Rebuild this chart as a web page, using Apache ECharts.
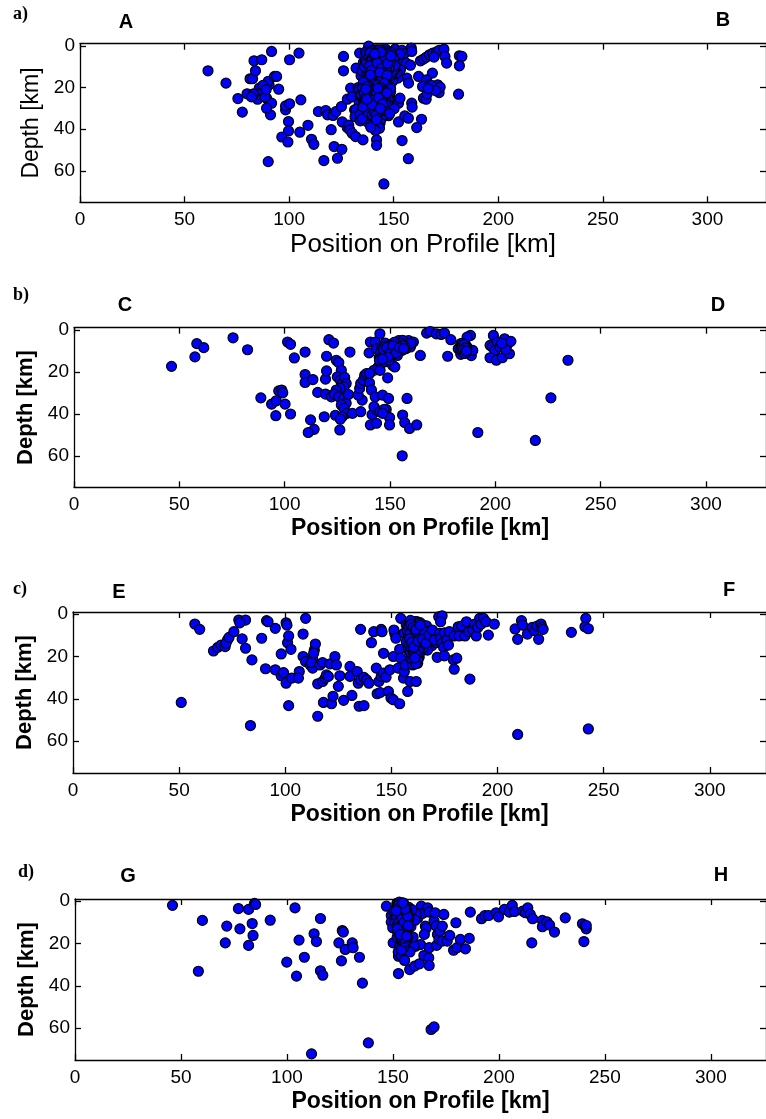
<!DOCTYPE html>
<html>
<head>
<meta charset="utf-8">
<script src="https://cdn.jsdelivr.net/npm/echarts@6/dist/echarts.min.js"></script>
<style>
html,body{margin:0;padding:0;background:#fff;}
#chart{width:766px;height:1119px;}
</style>
</head>
<body>
<div id="chart"></div>
<script>
// ---- data: [position on profile (km), depth (km)] ----
const panelA = [
[61.2,12],[69.8,17.9],[75.5,25.3],[77.6,31.8],[79.9,23],[81.3,15.8],[82.5,15.8],[83.2,7.2],[83.9,12],[86.9,6.7],[91.6,2.7],
[85.7,20.3],[88.1,22.7],[89.2,25.1],[84.9,25.6],[90.4,18.7],[90,17],[93,14.7],[94,14.7],[95,20.8],[91.6,27.5],[91.1,33.1],[89.2,29.9],[90,55.5],
[86,23.5],[87,21.5],[88.5,24.5],[83,23],[82,24.5],[87.5,19],[89,21],
[98.3,30.7],[98.3,28.8],[100.2,27.8],[99.7,36.3],[99.7,40.8],[96.5,43.7],[99.4,46.1],[100.2,6.7],[104.7,3.5],[105.6,25.9],[105.1,41.4],[109,38.1],
[110.7,44.8],[111.8,47.2],[114,31.5],[117.5,31],[118.4,33.1],[120.1,40.2],[121.5,48.3],[116.6,55],[123.1,53.9],[125.2,49.6],[121,33.4],[122.4,31.5],
[125,29.1],[125.4,36.5],[127.8,39.2],[128.5,38],[129,40.3],[130.1,41.9],[131.8,43.5],[127.8,25.6],[129.4,20.3],[130.1,24.5],[131.3,30.7],
[126,5.1],[126,12],[132,10.7],[133.7,3.5],[134.4,14.4],[135.5,8],[135,12],
[138,0.2],[141.8,1.9],[146.5,2.7],[150.7,1.6],[154,2.2],[155,3.8],[158.4,1.1],[158.6,2.7],[152,7.5],[156,8.3],[158,9.3],[153.2,11.5],[156.3,15.5],
[157.1,17.9],[152,15.5],[151,5],[153,4],[151.5,13],[149.5,17],[148,19.5],[146.5,18.5],
[136.5,3],[137.5,5],[138,7],[139,9],[138.5,11],[137,13],[139.5,4],[140,6],[141,8],[140.5,10],[141.5,12],[140,14],[142,3],[142.5,5],[143,7],
[143.5,9],[142.5,11],[143,13],[142,15],[144,2],[144.5,4],[145,6],[145.5,8],[144.5,10],[145,12],[144,14],[146,3],[146.5,5],[147,7],[146.5,9],
[147,11],[146,13],[147.5,15],[148,4],[148.5,6],[148,8],[149,10],[148.5,12],[149.5,5],[150,8],[137.5,9.5],[139,12.5],[141,16],[145.5,16],
[143,17.5],[140.5,2],[138,4.5],[146,1.5],[149,14],[150.5,11],
[139,3.5],[140,5],[141,7],[142,9],[143,11],[144,13],[145,15],[139.5,8],[140.5,12],[141.5,14],[142.5,6.5],[143.5,4.5],[144.5,8.5],[145.5,10.5],
[146.5,12],[147.5,9.5],[148.5,10],[147,5.5],[145,3.5],[141,3],[138.5,6],[138,9],[139.5,13.5],[143,15.5],[146,14.5],[148,13.5],[144,6],
[142,12.5],[140,10.5],[146,7],[147,2.5],[143,2],[149,7],[150,12],[147.5,13],[138.5,14],
[137,4],[137.5,6.5],[138,8.5],[138.5,10.5],[139,12],[139.5,14.5],[140,3],[140.5,4.5],[141,6],[141.5,9],[142,10.5],[142.5,13.5],[143,3.5],
[143.5,6],[144,7.5],[144.5,11.5],[145,13.5],[145.5,4.5],[146,6],[146.5,8],[147,10],[147.5,12],[148,14.5],[148.5,3],[149,5.5],[149.5,8.5],
[137.5,11.5],[138.5,13],[139.5,6.5],[140.5,7.5],[141.5,4],[142.5,8],[143.5,10],[144.5,12.5],[145.5,14],[146.5,10.5],[147.5,7],[148.5,9],
[139,2.5],[141,11],[143,8.5],[145,9.5],[147,4],[149,12.5],[138,15],[140,16],[142,14],[144,15.5],[146,15.5],[148,11],[136.5,7],[136,10],
[137,8],[150,6],[150.5,9.5],
[138.2,5.2],[138.9,7.3],[139.6,9.8],[140.3,11.6],[141.1,13.2],[141.8,5.1],[142.4,7.2],[143.1,9.4],[143.8,11.8],[144.6,13.8],[145.2,5.2],
[145.9,7.4],[146.7,9.7],[147.3,11.1],[147.9,6.2],[138.7,3.4],[139.9,5.6],[140.8,8.8],[141.6,10.4],[142.9,12.1],[143.6,14.3],[144.9,3.1],
[145.7,11.3],[146.3,13.6],[147.6,3.8],[139.2,10.9],[140.6,13.4],[142.2,4.2],[143.3,5.7],[144.2,9.2],[145.1,7.9],[146.1,4.3],[146.8,6.6],
[147.8,10.6],[148.4,7.7],[139.7,7.1],[141.3,5.4],[142.7,10.2],[144.7,6.8],[145.6,12.4],[140.1,9.1],[141.9,12.3],[143.9,3.2],[146.4,11.9],
[138.4,9.7],[139.4,11.8],[142.1,8.3],[144.1,10.9],[145.3,13.1],[147.1,8.4],[148.7,4.9],[140.9,3.9],[143.4,12.8],[146.9,14.2],[138.9,14.1],
[133,20],[134,22.5],[135,25],[133.5,27],[134.5,29.5],[133,31.5],[135,33.5],[136,21],[137,23.5],[137.5,26],[136.5,28.5],[137,31],[136,34],
[138.5,19.5],[139,22],[139.5,24.5],[138.5,27],[139.5,29.5],[138.5,32],[139,35],[140.5,20.5],[141,23],[141.5,25.5],[140.5,28],[141,30.5],
[140.5,33],[142,19],[142.5,21.5],[143,24],[142.5,26.5],[143,29],[142.5,31.5],[143.5,34],[144,20],[144.5,22.5],[145,25],[144.5,27.5],[145,30],
[144.5,32.5],[146,21],[146.5,23.5],[146,26],[147,28.5],[146.5,31],[147.5,33.5],[148,24],[148.5,27],[149,30],[147.5,19.5],[145.5,18],
[132,30.5],[131.5,34],[134,36],[137.5,36.5],[141,36],[143.5,37],[135.5,17.5],
[134,24],[135.5,26.5],[136.5,30],[138,33],[139.5,31],[141.5,27],[143.5,23],[145.5,28],[147,26],[139,26],[142,33.5],[144,35],[136,23],
[140,22],[137.5,21],[144,29],[146,33],[148.5,22],[135,31],[140,35.5],
[133.5,21],[134.5,23.5],[135.5,28],[136.5,32],[137.5,34.5],[138.5,30.5],[139.5,27.5],[140.5,25],[141.5,21.5],[142.5,23],[143.5,27.5],
[144.5,30.5],[145.5,33],[146.5,29],[147.5,25.5],[148.5,20.5],[134,33],[135,20.5],[136,25.5],[137,28],[138,23],[139,20.5],[140,30],
[141,32.5],[142,28.5],[143,32],[144,24.5],[145,21],[146,24.5],[147,31.5],[148,29],[139,33.5],[137,19.5],[143.5,20],[141,34.5],[135,35],
[135.8,22.4],[136.7,24.6],[137.6,27.3],[138.4,29.1],[139.3,31.7],[140.2,21.6],[141.2,24.1],[142.1,26.2],[143.1,28.4],[144.1,30.9],
[145.1,22.8],[146.1,25.3],[136.2,27.1],[137.2,29.6],[138.2,22.2],[139.2,24.8],[140.2,26.9],[141.2,29.3],[142.2,31.2],[143.2,21.1],
[144.2,23.6],[145.2,26.4],[146.2,28.1],[137.8,31.9],[139.8,33.1],[141.8,22.3],[143.8,25.8],[145.8,30.6],[136.6,20.8],[138.8,25.9],
[140.8,31.9],[142.8,24.9],[144.8,27.9],[146.8,22.6],[135.4,29.3],[139.6,28.3],[141.6,33.2],[143.6,30.1],[137.1,25.7],[142.4,20.4],
[161.9,14.7],[162.8,7.2],[164.2,6.4],[165.7,5.4],[167.1,4.3],[168.7,3.5],[170.5,2.9],[171.7,2.2],[174,1.6],[169.3,5.4],[174.5,5.1],[175.3,8.3],
[181.4,4.8],[182.6,5.1],[181.4,9.6],[181,23.2],[168.5,13.1],[165.7,16.3],[166.8,18.7],[167.5,21.1],[163.8,19.5],[164.2,25.1],[165.5,25.6],
[169.4,20.3],[171,18.7],[171.7,22.4],[172.2,19.8],[163.3,35.2],[161,39.2],[154,45.4],[157,54.1],[158.6,27.5],[158.8,29.4],[152.3,27.5],
[153,25.1],[152.3,36.5],[155.3,33.6],[157,34.7],[150.2,30.1],[148.1,32.5],[141.8,45.1],[141.8,47.7],[143.2,39.5],[141.3,40.6],[139,39],
[135.3,45.1],[145.3,66.2],[141.8,35.5],[166,23],[168,19],[170,21.5],[166.5,20.5]
];
const panelB = [
[46.3,17.4],[57.4,12.9],[58.3,6.6],[61.6,8.5],[75.5,3.8],[82.4,9.5],[88.7,32.4],[93.8,35.4],[96,33.8],[97.2,29.1],[98.6,28.7],[99.1,30],
[95.8,40.9],[100.2,35.4],[102.8,40.1],[101.4,5.8],[102.8,6.9],[104.6,13.4],[109.7,10.6],[109.7,21.3],[109.7,25.1],[113.4,23.7],[115.7,29.8],
[112.3,42.9],[114,47.4],[111.2,48.9],[118.8,41.4],[119.9,12.6],[119.4,23.5],[119.9,19.6],[121,4.7],[123.2,6.3],[119.4,30.6],[122.2,31.9],
[124.1,40.7],[126.2,47.7],[124.5,14.5],[125.7,15.6],[126.9,19.3],[125,22.4],[126.4,24],[127.3,25.6],[128.5,22.7],[129.2,25.6],[128.2,27.2],
[126.4,27.9],[124.5,28.7],[123.6,30.6],[125.7,31.9],[128,32.7],[129.2,35],[126.9,35.8],[128.2,37.4],[129.6,39.8],[127.3,41.4],[126.4,42.6],
[130.3,30.8],[131,10.6],[132.2,39.8],[136.1,39],[136.8,33.5],[134.9,31.1],[135.6,27.9],[136.1,25.6],[137.3,24],[138,21.6],[138.9,20.8],
[140.3,25.3],[141.2,28.7],[143,31.9],[146.5,31.1],[149.3,32.7],[140.7,45.3],[143.6,44.5],[141.5,40.4],[143.6,38.2],[142.4,36.6],[145.2,39],
[148.2,37.9],[149.8,41.8],[149.8,45.3],[147.2,37.9],[146.5,39.8],[156,40.6],[157,44.2],[159.3,47],[162.7,45.3],[158.1,32.7],[155.8,60],
[140.1,11],[140.7,5.8],[143,5.8],[145.2,1.9],[147.7,6.3],[143.6,9],[144.9,13.3],[144.4,17.7],[142.4,19.3],[140.3,20.8],[145.3,19.3],
[147.3,15.3],[148.9,22.9],[151.2,16.9],[152.3,17.7],[148.9,10.6],[150,9.8],[151.2,8.2],[152.8,7.9],[154.6,6.9],[156.5,5.4],[158.8,5.1],
[161.1,5.8],[158,7.4],[159.7,8.2],[155.8,9.8],[153.5,12.2],[152.3,11],[150,13],[147.7,11.4],[146.5,12.6],[150.8,6.9],[154.2,5.1],
[146,9],[147,10.5],[148,12],[149,9],[151,11.5],[153,9.5],[155,8],[157,6.5],[156,5],[157.5,9],[145.5,11],[149.5,14.5],[160,6.5],
[146,13],[147.5,12],[148.5,10],[150.5,10.5],[151.5,9.5],[153,8],[154,10],[155.5,6.5],[157,8],[149,11.5],[145,14.5],[147.5,8],[152,6],[156,7.5],
[147,9.5],[148.5,8.5],[150,11],[151.5,7.5],[153,11],[154.5,8.5],[156.5,9],[149,13],[146.5,14],
[164.4,12.2],[167.4,1.6],[169.1,0.8],[172,1.9],[174.3,2.2],[175.9,1.6],[178.9,4.7],[177.4,12.6],[182.4,9],[183.6,6.6],[184.3,7.9],[185.2,9.5],
[185.9,7.4],[184.9,10.6],[183.6,11.7],[188.2,2.7],[186.6,3.5],[188.6,12.3],[189.3,9.8],[184.5,8.5],[185.5,9],[186,10],[185,11],[184,7.5],[186.5,8],
[185,9.5],[184.5,10.5],[185.5,7.5],[186,9],[183.5,9.5],[184,9],[185,8],[186,11],[185.5,10.5],[184.5,6.5],[186.5,9.5],
[184.3,8.2],[185.2,7.1],[185.8,8.6],[184.8,9.8],[185.6,11.2],[186.3,10.1],
[199.1,2.7],[197.5,7.4],[198.6,8.2],[199.8,9.8],[197.5,13.3],[200.5,14.5],[203.3,13.3],[204.4,4.3],[205.6,7.4],[207.4,5.5],[206.7,11.4],
[201,5.8],[202.1,8.2],[205,9.5],[203,6.5],
[226.4,32.4],[219,52.7],[191.7,48.9],[234.5,14.5]
];
const panelC = [
[51,41.7],[57.4,4.7],[59.7,7.2],[66.2,17.4],[68.2,15.7],[69.8,14.6],[71.7,15.3],[72.8,12.2],[72.1,13.8],[73.5,11],[75.8,8.3],[78.1,2.8],
[81.3,2.8],[78.6,4.1],[79.7,11.7],[81.3,16.1],[84.3,21.6],[83.6,52.6],[88.9,11.4],[91.2,3.1],[91.9,3.6],[95.3,6.7],[90.7,25.8],[95.3,26.3],
[98.1,18.8],[98.1,29.1],[99.2,27.6],[100.4,32.6],[100.4,4.1],[100.8,5.2],[101.1,13.5],[101.6,10.3],[102.7,16.6],[101.6,43.2],[103.1,30.2],
[106.6,27.1],[106.2,30.2],[108.4,9.4],[109.6,2],[108.4,20],[109.6,22.4],[111.8,24],[112.9,20.8],[113.7,16.9],[114.2,14.1],[112.9,25.5],
[113.4,18.5],[112.3,22.9],[115.3,32.9],[115.3,48.2],[117.6,31.8],[118.8,30.2],[119.4,28.7],[120.3,29.4],[116.4,24],[117.6,22.9],[118,41.7],
[121.8,42.3],[122.5,38.8],[121.1,23.5],[123.4,20],[124.1,24],[125,34.1],[125.7,29.1],[127.5,40.7],[130.5,24.7],[131.4,38.4],[130.5,29.4],
[133.9,27.1],[134.4,32.6],[135.5,31],[137.1,29.9],[134.8,43.5],[137.1,43.2],[135.5,7.2],[138.3,31],[139.4,32.6],[140.6,13.5],[141.7,8.3],
[143.3,37.6],[144.7,37],[142.9,25.5],[144.1,31.8],[145.2,29.4],[146.3,27.9],[147.5,29.8],[146.3,18.5],[145.2,7.2],[145.6,8.3],[148.6,36.5],
[149.8,39.6],[150.9,40.4],[149.3,26.3],[150.9,20],[151.6,9.1],[151.2,7.5],[152.1,11.4],[153.2,25.5],[153.9,16.6],[154.4,2],[153.9,42.3],
[154.4,20.8],[155.7,30.2],[156.1,27.1],[156.6,24],[157.7,36.5],[158.9,31.8],[158.5,17.7],[161.7,31.8],[162.4,23.2],[163.1,20.4],
[157,5],[158,7],[159,9],[160,11],[161,13],[162,15],[158.5,4],[159.5,6],[160.5,8],[161.5,10],[162.5,12],[163.5,14],[160,4.5],[161,6.5],
[162,8.5],[163,10.5],[164,12.5],[165,7],[164.5,5],[163.5,4],[157.5,10],[158.5,12],[159.5,14],[160.5,16],[161.5,18],[162.5,20],[160,19],
[159,21],[161,22],[163,17],[164,9],[166,11],[157,13],[158,16],[165.5,14],[162,3.5],[166.5,5.5],[167.5,8],[168,12],[169,15],[170,9.5],
[171,13.5],[167,17],[156,9],
[159,5],[160,7],[161,9],[162,11],[163,13],[160.5,12.5],[159.5,10],[161.5,4],[163,6],[164,8],[162.5,16.5],[161,17],[163,19],[162,22],
[160,14.5],[158,10.5],[164.5,10.5],[162,5.5],[165,9],[161.5,20.5],[160,24],[159,18],[158.5,7.5],
[158,5.5],[159,7.5],[160,9.5],[161,11.5],[162,13.5],[163,15.5],[164,6.5],[165,11],[159.5,12],[160.5,13.5],[161.5,15.5],[162.5,17.5],
[163.5,8],[164.5,14],[160,5.5],[161,3.5],[162.5,4.5],[163.5,11.5],[158.5,14.5],[159.5,16],[160.5,18],[161.5,19.5],[162.5,21.5],[163.5,18],
[165,16],[166,8.5],[157.5,8],[159,3],[160,21.5],[161.5,23.5],
[158.3,6.2],[159.3,8.2],[160.3,10.2],[161.3,12.2],[162.3,14.2],[163.3,16.2],[158.8,9.2],[159.8,11.2],[160.8,13.2],[161.8,15.2],[162.8,17.2],
[159.3,4.8],[160.3,6.3],[161.3,8.2],[162.3,9.9],[163.3,11.9],[164.3,13.3],[160.8,17.8],[161.8,19.1],[162.8,6.8],[163.8,9.6],[164.8,7.6],
[158.6,11.7],[159.6,13.3],[160.6,15.6],[161.6,7.3],[162.6,12.8],[163.6,5.3],[164.6,11.9],[161.1,20.7],
[166.3,13.8],[167.7,9.9],[169.3,7.5],[170.4,12.2],[171.6,20.4],[172.7,9.1],[172.3,1.3],[173.9,0.8],[173.2,3.6],[173.2,11.4],[173.9,13.8],
[174.6,15.7],[175,19.7],[175,8.8],[176.2,12.2],[176.9,14.6],[177.3,8.3],[179.2,21.6],[179.6,26],[180.8,20.8],[179.6,10.3],[181.5,6],
[181.9,10.3],[183.1,5.6],[184.7,10.3],[185.4,3.6],[186.5,8.3],[187,30.7],[188.4,7.5],[189.3,4.7],[190,10.3],[190.7,6.3],[191.6,2],
[192.3,4.7],[193.4,2],[194.6,3.6],[195.7,9.9],[198.5,4.7],[208.3,7],[209.5,11.9],[211.3,3.1],[211.8,5.2],[214.1,9.4],[216.4,6.3],
[217.5,7.8],[218.7,5.6],[219.4,11.9],[220.5,4.7],[221,6.3],[221.5,7.2],[209.5,56.8],[234.8,8.6],[241.6,2],[241.2,6],[242.8,6.9],[242.8,54.2]
];
const panelD = [
[46,2],[58.2,33.1],[60.1,9.1],[70.9,19.7],[71.6,11.8],[77.1,3.5],[77.8,13.1],[81.9,3.9],[81.9,20.9],[83.6,10.6],[84,16.2],[84.7,1.1],
[85.2,1.6],[92.1,9],[99.9,28.8],[103.8,3.2],[104.5,35.4],[105.7,18.4],[108.2,26.5],[112.8,15.4],[113.9,19.1],[115.8,8.2],[115.8,32.9],
[116.9,35],[124.5,19.7],[125.7,28.2],[126.1,13.9],[126.6,14.6],[127.5,22.8],[130.8,19.7],[131.2,22],[134.2,26.5],[135.6,38.7],[138.4,66.9],
[111.6,72.1],
[146.9,2.4],[149.2,6.8],[149.2,9.9],[149.9,12.6],[150.1,19.7],[151.9,1.1],[152.6,26],[152.6,34.2],[154.9,23.3],[154.2,20.5],[157.9,32.3],
[160.2,30.7],[162.5,29.6],[160.7,21.3],[163,20.5],[161.8,7.9],[163.4,2.4],[164.1,5.8],[164.6,25.7],[165.3,11.8],[165.7,12.8],[164.8,15.7],
[166.4,3.2],[167.1,5.2],[167.1,22],[166.9,26.8],[167.1,30.4],[168,60.6],[169.4,59.4],[169.4,9.4],[169.9,5.5],[170.4,11.8],[171,15.7],
[170.6,20.9],[171.7,18.1],[172.2,14.2],[173.3,11.8],[173.3,18.9],[174,6.3],[175.6,18.9],[176.8,16.2],[178.6,23.2],[179.7,10.2],[180.2,22],
[181.8,18.1],[184.2,22.5],[186,17.6],[186.5,5.2],
[152,1],[153,3],[154,2],[155,4],[153.5,5.5],[154.5,7],[156,6],[155,9],[153,10],[154,12],[156,11],[155.5,13],[154,15],[156,16],[155,18],
[157,14],[158,8],[158.5,12],[157.5,20],[153,22],[152.5,24],[151,8],[150.5,5],[152,14],[159,22],[160,21],[161,6],[160.5,9],[159.5,17],
[153.5,1.5],[155.5,2.5],[152.5,6.5],[154.5,8.5],[156.5,8],[153.5,11],[155,11.5],[157,10],[153,16.5],[155,20],[156.5,19],[154,26],
[157.5,3],[159,4],[157,17],[158,24],[155.5,28],
[153.5,2],[154.5,3.5],[155.5,5],[154,6],[153,7.5],[155,7.5],[156,9.5],[154,10],[153.5,13],[155.5,15],[154.5,17],[153.5,19],[156.5,14],
[152.5,9],[155,1],[156.5,3.5],[154,4.5],[152,11.5],[157,12],[155,22],[153.5,21],
[152,2.5],[153,4.5],[154,5.5],[155,6.5],[156,7],[152.5,8],[153.5,9],[154.5,10.5],[155.5,10],[156.5,12],[152.5,12.5],[153.5,14],
[154.5,13.5],[155.5,16.5],[156,13],[153,18],[154,19],[155,14.5],[157,6],[156,4.5],[154.5,1.5],[153,0.5],[155,3],[152,4],[151.5,6],
[151,10],[157.5,8.5],[156.5,17.5],[152,17],[154,23],
[152.2,3.1],[153.1,5.1],[154.1,6.8],[155.1,8.3],[156.1,10.2],[152.3,10.9],[153.3,12.2],[154.3,14.1],[155.3,12.1],[156.3,15.1],[152.8,1.8],
[153.8,3.8],[154.8,5.8],[155.8,7.8],[156.8,9.8],[152.6,15.2],[153.6,17.2],[154.6,18.6],[155.6,19.2],[156.6,11.2],[151.8,7.2],[152.9,9.6],
[153.9,11.4],[154.9,12.9],[155.9,14.2],[153.2,6.1],[154.2,8.1],[155.2,10.1],[156.2,5.4],[154.4,16.1],[155.4,17.6],[153.7,2.7],[156.9,7.2],
[152.1,13.1],[155.7,3.7],[154.7,0.8],[153.4,15.8],[156.4,16.6],[151.6,4.6],[157.2,11.6],
[191.8,8.3],[193.4,6.8],[195.2,6.8],[198.7,5.5],[199.8,7.4],[202.6,3.9],[204.9,5.2],[206.3,2],[207.4,4.9],[211.3,4.7],[212.5,5.5],
[213.6,3.2],[214.8,6.3],[215.9,8.3],[215.5,19.7],[220.5,9.1],[220.5,12.1],[222.7,9.8],[223.9,11.3],[226.2,14.6],[231.3,7.9],[239.4,10.7],
[240.1,19.1],[240.6,11.8],[241.2,13.1],[241.2,11.5]
];
const xTicks = [0,50,100,150,200,250,300];
const yTicks = [0,20,40,60];
const panelLetters = [['a)','A','B'],['b)','C','D'],['c)','E','F'],['d)','G','H']];
const xTitle = 'Position on Profile [km]';
const yTitle = 'Depth [km]';

// ---- layout ----
const layout = [
  {data:panelA, left:80, top:43.7, width:686, height:158.6, xMax:328, bold:false, xNameSize:26, yNameSize:23,
   tag:[13,15], l1:[126,22], l2:[723,20]},
  {data:panelB, left:74, top:327.7, width:692, height:159.6, xMax:328.5, bold:true, xNameSize:23, yNameSize:22,
   tag:[13,296], l1:[125,305], l2:[718,305]},
  {data:panelC, left:73, top:612, width:693, height:161, xMax:326.5, bold:true, xNameSize:23, yNameSize:22,
   tag:[13,590], l1:[119,592], l2:[729,590]},
  {data:panelD, left:75, top:899, width:691, height:161, xMax:326, bold:true, xNameSize:23, yNameSize:22,
   tag:[18,873], l1:[128,876], l2:[721,875]}
];
const FONT = '"Liberation Sans", Arial, Helvetica, sans-serif';
const SERIF = '"Liberation Serif", "Times New Roman", serif';
const lineStyle = {color:'#000', width:1.3};

const grid=[], xAxis=[], yAxis=[], series=[], graphic=[];
layout.forEach((p,i)=>{
  grid.push({left:p.left, top:p.top, width:p.width, height:p.height, containLabel:false});
  const common = {min:0, max:p.xMax, gridIndex:i, type:'value', splitLine:{show:false},
    axisLine:{show:true, onZero:false, lineStyle}, axisTick:{show:true, inside:true, length:6, customValues:xTicks, lineStyle}};
  xAxis.push(Object.assign({}, common, {position:'bottom',
    axisLabel:{show:true, customValues:xTicks, margin:8, fontSize:19, color:'#000', fontFamily:FONT},
    name:xTitle, nameLocation:'middle', nameGap:30,
    nameTextStyle:{fontSize:p.xNameSize, fontWeight:p.bold?'bold':'normal', color:'#000', fontFamily:FONT}}));
  xAxis.push(Object.assign({}, common, {position:'top', axisLabel:{show:false}}));
  const ycommon = {min:-1, max:75, inverse:true, gridIndex:i, type:'value', splitLine:{show:false},
    axisLine:{show:true, onZero:false, lineStyle}, axisTick:{show:true, inside:true, length:6, customValues:yTicks, lineStyle}};
  yAxis.push(Object.assign({}, ycommon, {position:'left',
    axisLabel:{show:true, customValues:yTicks, margin:5, fontSize:19, color:'#000', fontFamily:FONT},
    name:yTitle, nameLocation:'middle', nameGap:36, nameRotate:90,
    nameTextStyle:{fontSize:p.yNameSize, fontWeight:p.bold?'bold':'normal', color:'#000', fontFamily:FONT}}));
  yAxis.push(Object.assign({}, ycommon, {position:'right', axisLabel:{show:false}}));
  series.push({type:'scatter', xAxisIndex:2*i, yAxisIndex:2*i, data:p.data, symbol:'circle', symbolSize:10,
    clip:false, itemStyle:{color:'#0000ff', borderColor:'#000', borderWidth:1.2, opacity:1}, emphasis:{disabled:true}, silent:true});
  graphic.push({type:'text', left:p.tag[0], top:p.tag[1]-10, style:{text:panelLetters[i][0], font:'bold 18px '+SERIF, fill:'#000'}});
  graphic.push({type:'text', x:p.l1[0], y:p.l1[1], style:{text:panelLetters[i][1], font:'bold 20px '+FONT, fill:'#000', align:'center', verticalAlign:'middle'}});
  graphic.push({type:'text', x:p.l2[0], y:p.l2[1], style:{text:panelLetters[i][2], font:'bold 20px '+FONT, fill:'#000', align:'center', verticalAlign:'middle'}});
});

const chart = echarts.init(document.getElementById('chart'), null, {renderer:'canvas'});
chart.setOption({animation:false, backgroundColor:'#fff', grid, xAxis, yAxis, series, graphic});
</script>
</body>
</html>
